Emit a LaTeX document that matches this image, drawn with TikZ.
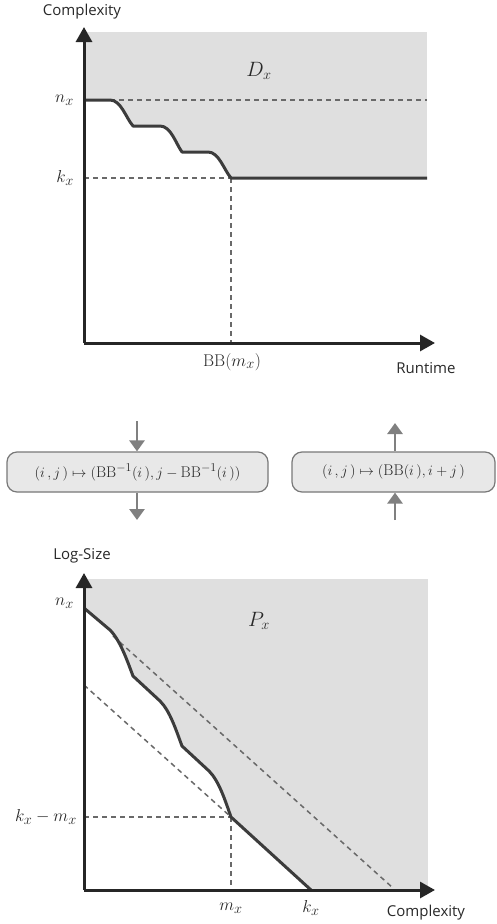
\documentclass[tikz,border=0pt]{standalone}
\usepackage{fontspec}
\newfontfamily\labelfont{Open Sans}
\DeclareMathSizes{17}{17}{14}{11}
\DeclareMathSizes{20}{20}{15}{12}
\DeclareMathSizes{15.5}{15.5}{11.5}{9}
\usetikzlibrary{arrows.meta}
\definecolor{shadegray}{RGB}{223,223,223}
\definecolor{axisgray}{RGB}{38,38,38}
\definecolor{curvegray}{RGB}{60,60,60}
\definecolor{dashgray}{RGB}{105,105,105}
\definecolor{arrowgray}{RGB}{128,128,128}
\definecolor{boxfill}{RGB}{232,232,232}
\definecolor{boxline}{RGB}{120,120,120}
\definecolor{txtgray}{RGB}{40,40,40}
\tikzset{
  axisline/.style={draw=axisgray, line width=3pt, -{Triangle[length=15pt,width=16pt]}},
  curveline/.style={draw=curvegray, line width=3pt, line join=round},
  dashline/.style={draw=dashgray, line width=1.5pt, dash pattern=on 5pt off 4pt},
  sanslabel/.style={font=\labelfont\fontsize{15}{18}\selectfont, text=txtgray, inner sep=0pt},
  mathlabel/.style={font=\fontsize{17}{20}\selectfont, text=txtgray, inner sep=0pt},
  bigmath/.style={font=\fontsize{20}{24}\selectfont, text=txtgray, inner sep=0pt},
  mapbox/.style={draw=boxline, fill=boxfill, line width=1.2pt, rounded corners=10pt, minimum height=40pt, inner sep=0pt, font=\fontsize{15.5}{19}\selectfont, text=txtgray},
  garrow/.style={draw=arrowgray, line width=2.7pt, -{Triangle[length=11pt,width=15pt]}}
}
\begin{document}
\begin{tikzpicture}[x=1pt,y=-1pt]
\useasboundingbox (0,0) rectangle (496,924);
% ---------- top chart ----------
\fill[shadegray] (84,32) rectangle (427,178);
\fill[white] (84,100) -- (110,100) .. controls (121,100) and (126,118) .. (133,126) -- (160,126) .. controls (171,126) and (176,144) .. (182,152) -- (208,152) .. controls (219,152) and (224,170) .. (231,178) -- (84,178) -- cycle;
\draw[dashline] (110,100) -- (427,100);
\draw[dashline] (84,178) -- (231,178);
\draw[dashline] (231,178) -- (231,343);
\draw[curveline] (84,100) -- (110,100) .. controls (121,100) and (126,118) .. (133,126) -- (160,126) .. controls (171,126) and (176,144) .. (182,152) -- (208,152) .. controls (219,152) and (224,170) .. (231,178) -- (427,178);
\coordinate (o1) at (84,343);
\coordinate (ytip1) at (84,27);
\coordinate (xtip1) at (435,343);
\draw[axisline] (o1) -- (ytip1);
\draw[axisline] (o1) -- (xtip1);
\node[sanslabel] (cplx1) at (82,12) {Complexity};
\node[mathlabel, anchor=east] (nx1) at (74,100) {$n_x$};
\node[mathlabel, anchor=east] (kx1) at (74,178) {$k_x$};
\node[bigmath] (dx) at (259,71) {$D_x$};
\node[mathlabel] (bbm) at (232,362) {$\mathrm{BB}(m_x)$};
\node[sanslabel] (rt) at (426,368) {Runtime};
% ---------- middle boxes ----------
\node[mapbox, minimum width=261pt] (lbox) at (137.5,472) {$(i\,,j\,)\mapsto\bigl(\mathrm{BB}^{-1}(i\,),j-\mathrm{BB}^{-1}(i\,)\bigr)$};
\node[mapbox, minimum width=203pt] (rbox) at (393.5,472) {$(i\,,j\,)\mapsto\bigl(\mathrm{BB}(i\,),i+j\,\bigr)$};
\coordinate (la1) at (137,421);
\coordinate (la2) at (137,520);
\coordinate (ra1) at (395,423);
\coordinate (ra2) at (395,520);
\draw[garrow] (la1) -- (lbox.north -| la1);
\draw[garrow] (lbox.south -| la2) -- (la2);
\draw[garrow] (rbox.north -| ra1) -- (ra1);
\draw[garrow] (ra2) -- (rbox.south -| ra2);
% ---------- bottom chart ----------
\fill[shadegray] (84,579) rectangle (428,890);
\fill[white] (84,608) -- (110,630) .. controls (120,640) and (127,660) .. (133,676) -- (160,701) .. controls (170,711) and (176,730) .. (182,746) -- (209,771) .. controls (219,781) and (225,800) .. (231,817) -- (311,890) -- (84,890) -- cycle;
\draw[dashline] (113,636) -- (393,888);
\draw[dashline] (84,685) -- (231,817);
\draw[dashline] (84,817) -- (231,817);
\draw[dashline] (231,817) -- (231,890);
\draw[curveline] (84,608) -- (110,630) .. controls (120,640) and (127,660) .. (133,676) -- (160,701) .. controls (170,711) and (176,730) .. (182,746) -- (209,771) .. controls (219,781) and (225,800) .. (231,817) -- (311,890);
\coordinate (o2) at (84,890);
\coordinate (ytip2) at (84,573);
\coordinate (xtip2) at (435,890);
\draw[axisline] (o2) -- (ytip2);
\draw[axisline] (o2) -- (xtip2);
\node[sanslabel] (logsize) at (82,556) {Log-Size};
\node[mathlabel, anchor=east] (nx2) at (74,603) {$n_x$};
\node[mathlabel, anchor=east] (kmx) at (77,817) {$k_x-m_x$};
\node[bigmath] (px) at (259,621) {$P_x$};
\node[mathlabel] (mx) at (231,908) {$m_x$};
\node[mathlabel] (kx2) at (311,908) {$k_x$};
\node[sanslabel] (cplx2) at (426,913) {Complexity};
\end{tikzpicture}
\end{document}
